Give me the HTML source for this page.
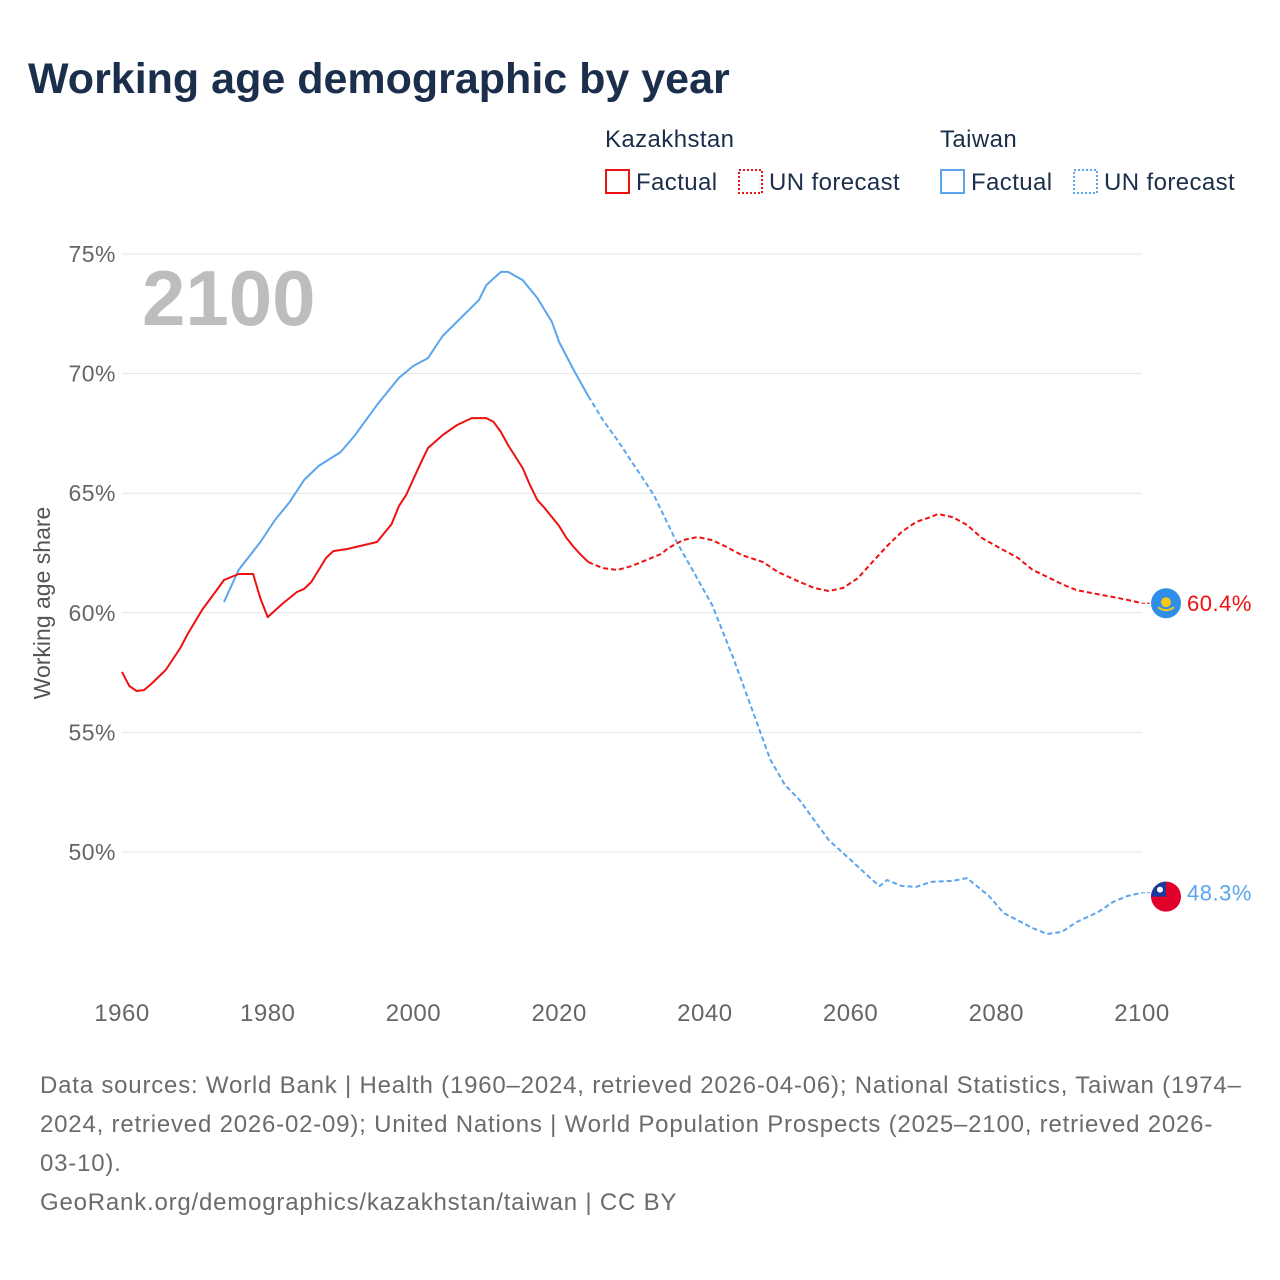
<!DOCTYPE html>
<html><head><meta charset="utf-8">
<style>
body{margin:0;background:#fff;font-family:"Liberation Sans",sans-serif;}
#wrap{position:relative;width:1280px;height:1280px;overflow:hidden;}
svg text{font-family:"Liberation Sans",sans-serif;}
</style></head>
<body>
<div id="wrap">
<svg id="chart" width="1280" height="1280" viewBox="0 0 1280 1280">
<text x="28" y="93" font-size="43" font-weight="bold" fill="#1b2e4b">Working age demographic by year</text>
<g letter-spacing="0.4">
<text x="605" y="147" font-size="24" fill="#1b2e4b">Kazakhstan</text>
<rect x="606" y="170" width="23" height="23" fill="none" stroke="#ee1111" stroke-width="2"/>
<text x="636" y="190" font-size="24" fill="#1b2e4b">Factual</text>
<rect x="739" y="170" width="23" height="23" fill="none" stroke="#ee1111" stroke-width="2" stroke-dasharray="2,2"/>
<text x="769" y="190" font-size="24" fill="#1b2e4b">UN forecast</text>
<text x="940" y="147" font-size="24" fill="#1b2e4b">Taiwan</text>
<rect x="941" y="170" width="23" height="23" fill="none" stroke="#5aa5ee" stroke-width="2"/>
<text x="971" y="190" font-size="24" fill="#1b2e4b">Factual</text>
<rect x="1074" y="170" width="23" height="23" fill="none" stroke="#5aa5ee" stroke-width="2" stroke-dasharray="2,2"/>
<text x="1104" y="190" font-size="24" fill="#1b2e4b">UN forecast</text>
</g>
<text x="142" y="325" font-size="78" font-weight="bold" fill="#bdbdbd">2100</text>
<text transform="translate(50,603) rotate(-90)" text-anchor="middle" font-size="23" fill="#555">Working age share</text>
<g id="grid"></g><g id="axes"></g><g id="series"></g><g id="ends"></g>
<g font-size="24" fill="#6b6b6b" letter-spacing="0.8">
<text x="40" y="1093">Data sources: World Bank | Health (1960–2024, retrieved 2026-04-06); National Statistics, Taiwan (1974–</text>
<text x="40" y="1132">2024, retrieved 2026-02-09); United Nations | World Population Prospects (2025–2100, retrieved 2026-</text>
<text x="40" y="1171">03-10).</text>
<text x="40" y="1210">GeoRank.org/demographics/kazakhstan/taiwan | CC BY</text>
</g>
</svg>
</div>
<script>
const yTicks=[50,55,60,65,70,75];
const xTicks=[1960,1980,2000,2020,2040,2060,2080,2100];
const kazYearsF=[1960,1961,1962,1963,1964,1966,1968,1969,1971,1973,1974,1976,1978,1979,1980,1982,1984,1985,1986,1987,1988,1989,1991,1995,1997,1998,1999,2001,2002,2004,2006,2008,2010,2011,2012,2013,2015,2016,2017,2018,2020,2021,2022,2023,2024];
const kazValsF=[57.53,56.94,56.73,56.77,57.02,57.61,58.53,59.11,60.12,60.95,61.37,61.62,61.62,60.6,59.82,60.37,60.87,61.0,61.29,61.79,62.29,62.58,62.67,62.96,63.71,64.46,64.92,66.26,66.89,67.43,67.85,68.14,68.14,67.98,67.56,67.01,66.05,65.34,64.72,64.38,63.63,63.13,62.75,62.42,62.12];
const kazYearsP=[2024,2026,2028,2030,2032,2034,2035,2037,2039,2041,2043,2045,2048,2050,2053,2055,2057,2059,2061,2063,2065,2067,2069,2071,2072,2074,2076,2078,2080,2083,2085,2087,2089,2091,2093,2096,2098,2100];
const kazValsP=[62.12,61.87,61.79,61.96,62.21,62.46,62.71,63.04,63.17,63.04,62.75,62.42,62.12,61.71,61.29,61.04,60.91,61.04,61.45,62.12,62.79,63.38,63.8,64.0,64.13,64.0,63.67,63.13,62.79,62.29,61.79,61.5,61.2,60.95,60.83,60.66,60.54,60.4];
const twYearsF=[1974,1976,1979,1981,1983,1985,1987,1990,1992,1995,1998,2000,2002,2004,2009,2010,2012,2013,2015,2017,2019,2020,2022,2024];
const twValsF=[60.45,61.79,62.96,63.88,64.63,65.55,66.14,66.72,67.43,68.69,69.82,70.32,70.65,71.57,73.08,73.7,74.25,74.25,73.91,73.16,72.16,71.32,70.15,69.06];
const twYearsP=[2024,2026,2028,2030,2033,2036,2041,2044,2047,2049,2051,2053,2057,2060,2063,2064,2065,2067,2069,2071,2074,2076,2077,2079,2081,2085,2087,2089,2091,2094,2096,2098,2100];
const twValsP=[69.06,68.06,67.22,66.3,64.92,63.04,60.33,58.03,55.52,53.85,52.8,52.17,50.5,49.67,48.83,48.58,48.83,48.58,48.54,48.75,48.79,48.91,48.66,48.16,47.45,46.82,46.57,46.66,47.07,47.49,47.91,48.16,48.3];
const NS="http://www.w3.org/2000/svg";
const X0=122,X1=1142,Y75=254,Y50=852;
function xs(y){return X0+(y-1960)*(X1-X0)/140;}
function ys(v){return Y75+(75-v)*(Y50-Y75)/25;}
function mk(tag,attrs,parent){const e=document.createElementNS(NS,tag);for(const k in attrs)e.setAttribute(k,attrs[k]);parent.appendChild(e);return e;}
const grid=document.getElementById('grid'),axes=document.getElementById('axes'),ser=document.getElementById('series'),ends=document.getElementById('ends');
yTicks.forEach(t=>{
 const l=mk('line',{x1:122,x2:1142,y1:ys(t),y2:ys(t),stroke:'#e4e4e4','stroke-width':1},grid);
 
 
 const tx=mk('text',{x:116,y:ys(t)+8,'text-anchor':'end','font-size':23,fill:'#666','letter-spacing':0.5},axes);
 tx.textContent=t+'%';
 
 
});
xTicks.forEach(t=>{
 const tx=mk('text',{x:xs(t),y:1021,'text-anchor':'middle','font-size':24,fill:'#666','letter-spacing':0.5},axes);
 tx.textContent=t;
 
 
});
function line(yrs,vals,color,dash,name){
 const d=yrs.map((y,i)=>(i?'L':'M')+xs(y).toFixed(1)+','+ys(vals[i]).toFixed(1)).join('');
 const p=mk('path',{d:d,fill:'none',stroke:color,'stroke-width':2,'stroke-linejoin':'round'},ser);
 if(dash)p.setAttribute('stroke-dasharray','5,3');
 
 
}
line(twYearsF,twValsF,'#5aa5ee',false,'taiwan-factual-line');
line(twYearsP,twValsP,'#5aa5ee',true,'taiwan-forecast-line');
line(kazYearsF,kazValsF,'#ee1111',false,'kazakhstan-factual-line');
line(kazYearsP,kazValsP,'#ee1111',true,'kazakhstan-forecast-line');
const kv=kazValsP[kazValsP.length-1],tv=twValsP[twValsP.length-1];
const ky=ys(kv),ty=ys(tv);
mk('line',{x1:1142,x2:1152,y1:ky,y2:ky,stroke:'#ee1111','stroke-dasharray':'3,2'},ends);
mk('line',{x1:1142,x2:1152,y1:ty,y2:ty,stroke:'#5aa5ee','stroke-dasharray':'3,2'},ends);
const kf=mk('g',{},ends);


mk('circle',{cx:1166,cy:ky,r:15,fill:'#2f8fe8'},kf);
mk('circle',{cx:1166,cy:ky-1,r:5,fill:'#f5c518'},kf);
mk('path',{d:`M1158 ${ky+4} Q1166 ${ky+10} 1174 ${ky+4}`,stroke:'#f5c518','stroke-width':2,fill:'none'},kf);
const tf=mk('g',{},ends);


mk('circle',{cx:1166,cy:ty+4,r:15,fill:'#e0002a'},tf);
mk('path',{d:`M1151 ${ty+4} A15 15 0 0 1 1166 ${ty-11} L1166 ${ty+4} Z`,fill:'#1a3aa0'},tf);
mk('circle',{cx:1160,cy:ty-3,r:3,fill:'#fff'},tf);
const kt=mk('text',{x:1187,y:ky+8,'font-size':22,fill:'#ee1111','letter-spacing':0.5},ends);
kt.textContent=kv.toFixed(1)+'%';


const tt=mk('text',{x:1187,y:ty+8,'font-size':22,fill:'#5aa5ee','letter-spacing':0.5},ends);
tt.textContent=tv.toFixed(1)+'%';


</script>
</body></html>
